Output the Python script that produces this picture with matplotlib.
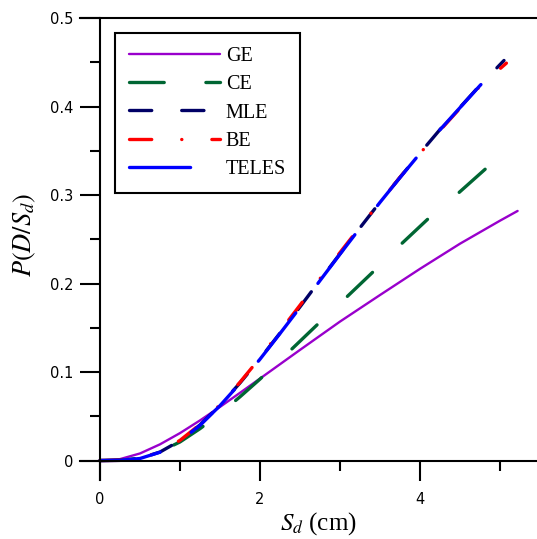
import matplotlib
matplotlib.use("Agg")
import matplotlib.pyplot as plt
from matplotlib.ticker import FixedLocator

# ── data ──
sd_ge = [0, 0.25, 0.5, 0.75, 1.0, 1.25, 1.5, 1.75, 2.0, 2.5, 3.0, 3.5, 4.0, 4.5, 5.0, 5.22]
p_ge = [0, 0.0016, 0.0080, 0.0183, 0.031, 0.0453, 0.0606, 0.0765, 0.0926, 0.125,
        0.157, 0.187, 0.2166, 0.245, 0.271, 0.282]

sd_ce = [0, 0.3, 0.5, 0.75, 1.0, 1.25, 1.5, 1.75, 2.0, 2.375, 2.71, 3.075, 3.4, 3.77, 4.1, 4.49, 4.825]
p_ce = [0, 0.0005, 0.003, 0.010, 0.021, 0.036, 0.053, 0.072, 0.092, 0.124,
        0.153, 0.184, 0.212, 0.245, 0.273, 0.303, 0.330]

sd_mle = [0, 0.25, 0.5, 0.75, 1.0, 1.25, 1.5, 1.75, 2.0, 2.25, 2.5, 2.75, 3.0,
          3.25, 3.5, 3.75, 4.0, 4.25, 4.5, 4.75, 5.05]
p_mle = [0, 0.0002, 0.0024, 0.0096, 0.0224, 0.0402, 0.0624, 0.0877, 0.115, 0.144,
         0.1736, 0.2038, 0.2336, 0.263, 0.292, 0.320, 0.3473, 0.374, 0.399, 0.424, 0.452]

sd_be = [0, 0.25, 0.5, 0.75, 1.0, 1.25, 1.5, 1.75, 2.0, 2.25, 2.5, 2.75, 3.0,
         3.25, 3.5, 3.75, 4.0, 4.25, 4.5, 4.75, 5.08]
p_be = [0, 0.0002, 0.0025, 0.0098, 0.0228, 0.0408, 0.0630, 0.0885, 0.116, 0.146,
        0.1755, 0.2055, 0.2350, 0.264, 0.292, 0.320, 0.347, 0.373, 0.398, 0.423, 0.449]

sd_teles = [0, 0.25, 0.5, 0.75, 1.0, 1.25, 1.5, 1.75, 2.0, 2.25, 2.5, 2.75, 3.0,
            3.25, 3.5, 3.75, 4.0, 4.25, 4.5, 4.75, 5.0]
p_teles = [0, 0.0002, 0.0023, 0.0094, 0.0221, 0.0398, 0.0620, 0.0872, 0.1145, 0.1435,
           0.173, 0.2033, 0.2332, 0.2627, 0.2917, 0.3197, 0.3470, 0.3737, 0.3987, 0.4237, 0.447]

x_major = [0, 2, 4]
x_minor = [1, 3, 5]
y_major = [0, 0.1, 0.2, 0.3, 0.4, 0.5]
y_minor = [0.05, 0.15, 0.25, 0.35, 0.45]
y_labels = ['0', '0.1', '0.2', '0.3', '0.4', '0.5']

plt.rcParams['lines.scale_dashes'] = False
plt.rcParams['mathtext.fontset'] = 'stix'

fig = plt.figure(figsize=(5.37, 5.39), dpi=100)
ax = fig.add_axes([80 / 537, 59 / 539, 457 / 537, 462 / 539])

ax.plot(sd_ge, p_ge, color='#9900CC', lw=1.7, label='GE', solid_capstyle='round')
ax.plot(sd_ce, p_ce, color='#006633', lw=2.4, label='CE',
        dashes=(25, 30), dash_capstyle='round')
ax.plot(sd_mle, p_mle, color='#000066', lw=2.4, label='MLE',
        dashes=(16, 21.6), dash_capstyle='round')
ax.plot(sd_be, p_be, color='#FF0000', lw=2.4, label='BE',
        dashes=(16, 21.6, 0.1, 21.6), dash_capstyle='round')
ax.plot(sd_teles, p_teles, color='#0000FF', lw=2.4, label='TELES',
        dashes=(44, 26.6), dash_capstyle='round')

ax.set_xlim(-0.25, 5.4625)
ax.set_ylim(-0.022, 0.5)

ax.spines['left'].set_position(('data', 0))
ax.spines['bottom'].set_position(('data', 0))
ax.spines['right'].set_visible(False)
for s in ['left', 'bottom', 'top']:
    ax.spines[s].set_linewidth(1.5)

ax.xaxis.set_major_locator(FixedLocator(x_major))
ax.xaxis.set_minor_locator(FixedLocator(x_minor))
ax.yaxis.set_major_locator(FixedLocator(y_major))
ax.yaxis.set_minor_locator(FixedLocator(y_minor))
ax.set_xticklabels([str(v) for v in x_major])
ax.set_yticklabels(y_labels)
ax.tick_params(which='major', direction='out', length=14.4, width=1.5,
               labelsize=10.5, pad=5)
ax.tick_params(which='minor', direction='out', length=7, width=1.5)
ax.tick_params(axis='x', which='major', pad=8)

ax.set_xlabel(r'$S_d$ (cm)', fontsize=18, family='Liberation Serif')
ax.set_ylabel(r'$P(D/S_d)$', fontsize=19, family='Liberation Serif')
ax.xaxis.set_label_coords(238 / 457, -30 / 462)
ax.yaxis.set_label_coords(-42 / 457, 0.53)

leg = ax.legend(loc='upper left', bbox_to_anchor=(35 / 457, 447 / 462),
                borderaxespad=0, fancybox=False, framealpha=1, edgecolor='black',
                prop={'family': 'Liberation Serif', 'size': 14.5},
                handlelength=4.5, handletextpad=0.3, labelspacing=0.45,
                borderpad=0.7)
leg.get_frame().set_linewidth(1.5)

fig.savefig('out.png', dpi=100)
